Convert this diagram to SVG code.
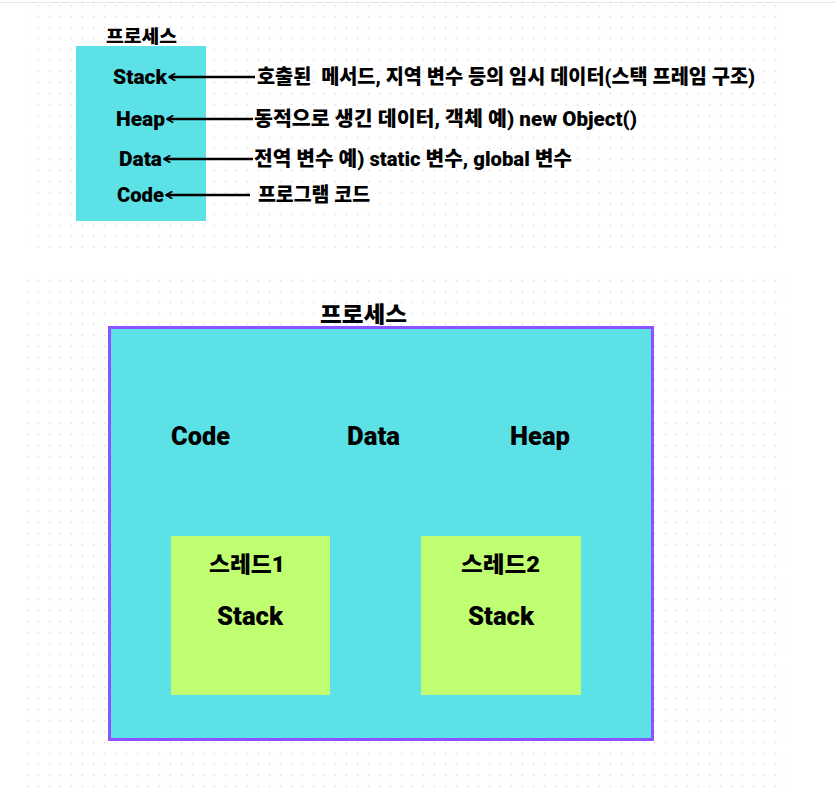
<svg xmlns="http://www.w3.org/2000/svg" width="836" height="795" viewBox="0 0 836 795">
<defs>
<pattern id="dots" x="0" y="0" width="11" height="11" patternUnits="userSpaceOnUse">
<circle cx="5.5" cy="5.5" r="0.9" fill="#e2e2e2"/>
</pattern>
<marker id="chev" viewBox="0 0 10 10" refX="8.5" refY="5" markerWidth="8" markerHeight="10" orient="auto" markerUnits="userSpaceOnUse">
<path d="M1.5,1 L8.5,5 L1.5,9" fill="none" stroke="#000" stroke-width="2.2" stroke-linecap="round" stroke-linejoin="round"/>
</marker>
<style>
.t{font-family:"Roboto","Noto Sans CJK KR","Liberation Sans",sans-serif;font-weight:900;fill:#000}
.s20{font-size:20px}
.s18{font-size:18px}
.s22{font-size:22px}
.s25{font-size:25px}
.conn line{stroke:#000;stroke-width:2.5}
</style>
</defs>
<rect width="836" height="795" fill="#fff"/>
<line x1="0" y1="2.5" x2="836" y2="2.5" stroke="#e6e6e6" stroke-width="1"/>
<rect x="28" y="1" width="755" height="247" fill="url(#dots)"/>
<rect x="20" y="276" width="766" height="512" fill="url(#dots)"/>

<g id="top-process">
<text class="t s18" x="106" y="43" textLength="71" lengthAdjust="spacingAndGlyphs">프로세스</text>
<rect x="76" y="46" width="130" height="175" fill="#5ce1e6"/>
</g>
<g id="lbl-stack"><text class="t s20" x="113" y="84" textLength="54" lengthAdjust="spacingAndGlyphs">Stack</text></g>
<g id="lbl-heap"><text class="t s20" x="116" y="126" textLength="49" lengthAdjust="spacingAndGlyphs">Heap</text></g>
<g id="lbl-data"><text class="t s20" x="119" y="166" textLength="43" lengthAdjust="spacingAndGlyphs">Data</text></g>
<g id="lbl-code"><text class="t s20" x="117" y="202" textLength="47" lengthAdjust="spacingAndGlyphs">Code</text></g>

<g id="desc-stack"><text class="t s20" x="257" y="84" textLength="498" lengthAdjust="spacingAndGlyphs">호출된&#160; 메서드, 지역 변수 등의 임시 데이터(스택 프레임 구조)</text></g>
<g id="desc-heap"><text class="t s20" x="254" y="126" textLength="383" lengthAdjust="spacingAndGlyphs">동적으로 생긴 데이터, 객체 예) new Object()</text></g>
<g id="desc-data"><text class="t s20" x="254" y="166" textLength="318" lengthAdjust="spacingAndGlyphs">전역 변수 예) static 변수, global 변수</text></g>
<g id="desc-code"><text class="t s20" x="258" y="202" textLength="112" lengthAdjust="spacingAndGlyphs">프로그램 코드</text></g>

<g id="connectors" class="conn">
<line x1="255" y1="77" x2="169" y2="77" marker-end="url(#chev)"/>
<line x1="253" y1="119" x2="167" y2="119" marker-end="url(#chev)"/>
<line x1="253" y1="159" x2="164" y2="159" marker-end="url(#chev)"/>
<line x1="250" y1="195" x2="166" y2="195" marker-end="url(#chev)"/>
</g>

<g id="process">
<text class="t s22" x="320" y="322" textLength="87" lengthAdjust="spacingAndGlyphs">프로세스</text>
<rect x="109.5" y="327.5" width="543" height="412" fill="#5ce1e6" stroke="#8c52ff" stroke-width="3"/>
</g>
<g id="code"><text class="t s25" x="171" y="445" textLength="59" lengthAdjust="spacingAndGlyphs">Code</text></g>
<g id="data"><text class="t s25" x="347" y="445" textLength="53" lengthAdjust="spacingAndGlyphs">Data</text></g>
<g id="heap"><text class="t s25" x="510" y="445" textLength="60" lengthAdjust="spacingAndGlyphs">Heap</text></g>

<g id="thread1">
<rect x="171" y="536" width="159" height="159" fill="#c1ff72"/>
<text class="t s22" x="209" y="572" textLength="76" lengthAdjust="spacingAndGlyphs">스레드1</text>
<text class="t s25" x="217" y="625" textLength="66" lengthAdjust="spacingAndGlyphs">Stack</text>
</g>
<g id="thread2">
<rect x="421" y="536" width="160" height="159" fill="#c1ff72"/>
<text class="t s22" x="461" y="572" textLength="79" lengthAdjust="spacingAndGlyphs">스레드2</text>
<text class="t s25" x="468" y="625" textLength="66" lengthAdjust="spacingAndGlyphs">Stack</text>
</g>
</svg>
